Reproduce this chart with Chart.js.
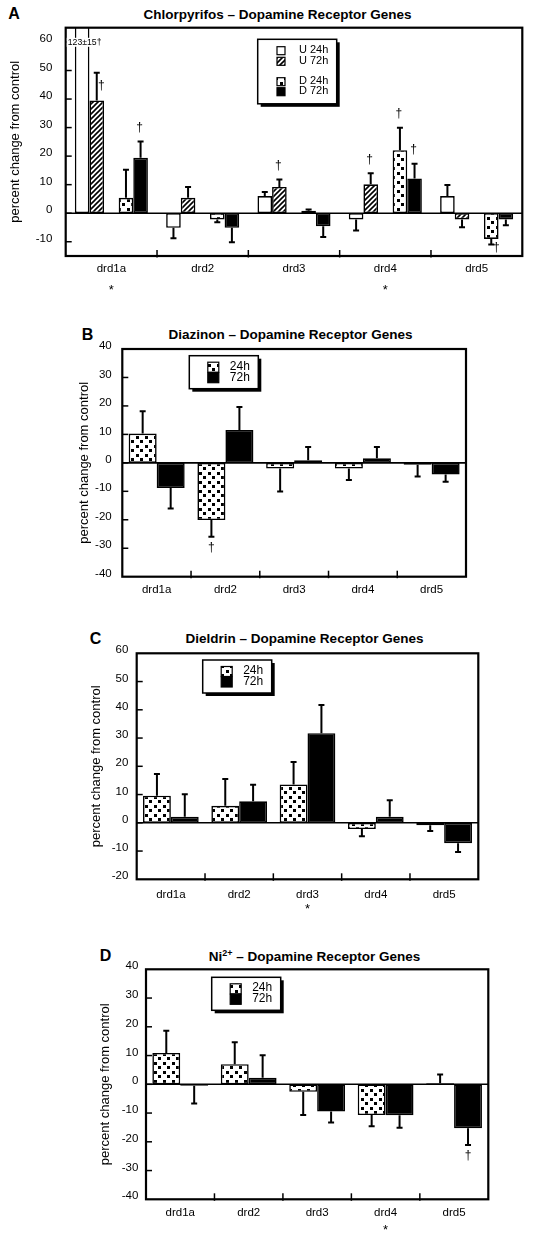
<!DOCTYPE html>
<html>
<head>
<meta charset="utf-8">
<script src="https://cdn.jsdelivr.net/npm/chart.js@4.4.1/dist/chart.umd.min.js"></script>
<style>
  body { margin: 0; background: #fff; }
  #wrap { position: relative; width: 533px; height: 1239px; font-family: "Liberation Sans", Arial, sans-serif; color: #000; }
  canvas { position: absolute; left: 0; }
  .ttl { position: absolute; transform: translate(-50%, -50%); white-space: nowrap; font-weight: bold; font-size: 13.5px; }
  .ttl sup { font-size: 9px; }
  .let { position: absolute; transform: translate(-50%, -50%); font-weight: bold; font-size: 16px; }
</style>
</head>
<body>
<div id="wrap">
  <div class="let" style="left:14px;top:14px">A</div>
  <div class="ttl" style="left:277.5px;top:14px">Chlorpyrifos – Dopamine Receptor Genes</div>
  <canvas id="cA" width="533" height="300" style="top:0px"></canvas>

  <div class="let" style="left:87.5px;top:334.5px">B</div>
  <div class="ttl" style="left:290.5px;top:334px">Diazinon – Dopamine Receptor Genes</div>
  <canvas id="cB" width="533" height="315" style="top:300px"></canvas>

  <div class="let" style="left:95.5px;top:638.5px">C</div>
  <div class="ttl" style="left:304.5px;top:638px">Dieldrin – Dopamine Receptor Genes</div>
  <canvas id="cC" width="533" height="320" style="top:615px"></canvas>

  <div class="let" style="left:105.5px;top:956px">D</div>
  <div class="ttl" style="left:314.5px;top:955.5px">Ni<sup>2+</sup> – Dopamine Receptor Genes</div>
  <canvas id="cD" width="533" height="304" style="top:935px"></canvas>
</div>

<script>
// Données
const genes = ['drd1a', 'drd2', 'drd3', 'drd4', 'drd5'];

// A : chlorpyrifos (U = undifferentiated, D = differentiated)
const aU24 = [123, -5.1, 6.0, -2.2, 6.0];
const aU24Err = [15, 3.7, 1.4, 3.9, 3.9];
const aU72 = [39.5, 5.4, 9.2, 10.1, -2.2];
const aU72Err = [9.7, 3.8, 2.6, 3.9, 2.7];
const aD24 = [5.4, -2.2, 0.9, 22.1, -9.0];
const aD24Err = [9.8, 1.0, 0.4, 7.8, 2.0];
const aD72 = [19.4, -5.1, -4.6, 12.2, -2.2];
const aD72Err = [5.7, 5.1, 3.7, 5.1, 2.0];
const aStars = ['drd1a', 'drd4'];
const aDaggers = [
  ['drd1a', 'U 72h', 'right'], ['drd1a', 'D 72h', 'above'], ['drd3', 'U 72h', 'above'],
  ['drd4', 'U 72h', 'above'], ['drd4', 'D 24h', 'above'], ['drd4', 'D 72h', 'above'],
  ['drd5', 'D 24h', 'belowRight']
];
const aNote = ['drd1a', 'U 24h', '123±15†'];

// B : diazinon
const b24 = [10.3, -20.1, -2.0, -2.0, -0.7];
const b24Err = [7.8, 5.9, 8.1, 4.0, 4.1];
const b72 = [-8.8, 11.5, 0.9, 1.6, -4.1];
const b72Err = [7.2, 8.1, 4.7, 4.0, 2.5];
const bStars = [];
const bDaggers = [['drd2', '24h', 'below']];

// C : dieldrin
const c24 = [9.6, 6.0, 13.6, -2.2, -0.9];
const c24Err = [7.7, 9.5, 7.9, 2.6, 2.0];
const c72 = [2.1, 7.6, 31.7, 2.1, -7.2];
const c72Err = [8.0, 5.9, 10.0, 5.9, 3.1];
const cStars = ['drd3'];
const cDaggers = [];

// D : Ni2+
const d24 = [10.9, 7.0, -2.6, -10.7, 0.4];
const d24Err = [7.7, 7.6, 8.1, 3.9, 3.0];
const d72 = [-0.5, 2.3, -9.5, -10.8, -15.3];
const d72Err = [6.2, 7.8, 3.8, 4.3, 5.8];
const dStars = ['drd4'];
const dDaggers = [['drd5', '72h', 'below']];

const FONT = '"Liberation Sans", Arial, sans-serif';

// Motifs
function makePattern(kind) {
  const c = document.createElement('canvas');
  const g = c.getContext('2d');
  if (kind === 'hatch') {
    c.width = c.height = 5;
    g.fillStyle = '#fff'; g.fillRect(0, 0, 5, 5);
    g.strokeStyle = '#000'; g.lineWidth = 1.6;
    g.beginPath();
    g.moveTo(-1, 6); g.lineTo(6, -1);
    g.moveTo(-1, 1); g.lineTo(1, -1);
    g.moveTo(4, 6); g.lineTo(6, 4);
    g.stroke();
  } else {
    c.width = c.height = 9;
    g.fillStyle = '#fff'; g.fillRect(0, 0, 9, 9);
    g.fillStyle = '#000';
    g.fillRect(1, 1, 3, 3);
    g.fillRect(5, 5, 3, 3);
  }
  return g.createPattern(c, 'repeat');
}
const hatch = makePattern('hatch');
const dots = makePattern('dots');

function line(ctx, x1, y1, x2, y2) {
  ctx.beginPath(); ctx.moveTo(x1, y1); ctx.lineTo(x2, y2); ctx.stroke();
}

function errEnd(v, e) { return v >= 0 ? v + e : v - e; }

const decor = {
  id: 'decor',
  afterDatasetsDraw(chart, args, o) {
    const { ctx, chartArea: a, scales: { x, y } } = chart;
    const sets = chart.data.datasets;
    const barOf = (cat, label) => {
      const di = sets.findIndex(d => d.label === label);
      const i = genes.indexOf(cat);
      return { bar: chart.getDatasetMeta(di).data[i], v: sets[di].data[i], e: sets[di].errors[i] };
    };

    // barres d'erreur
    ctx.save();
    ctx.beginPath(); ctx.rect(a.left, a.top, a.right - a.left, a.bottom - a.top); ctx.clip();
    ctx.strokeStyle = '#000'; ctx.lineWidth = 2;
    sets.forEach((ds, di) => {
      if (!ds.errors) return;
      chart.getDatasetMeta(di).data.forEach((bar, i) => {
        const v = ds.data[i];
        if (v == null) return;
        const py = y.getPixelForValue(errEnd(v, ds.errors[i]));
        line(ctx, bar.x, y.getPixelForValue(v), bar.x, py);
        line(ctx, bar.x - 3, py, bar.x + 3, py);
      });
    });
    ctx.restore();

    ctx.save();
    ctx.strokeStyle = '#000';
    // ligne zéro
    ctx.lineWidth = 1.6;
    const y0 = y.getPixelForValue(0);
    line(ctx, a.left, y0, a.right, y0);
    // cadre
    ctx.lineWidth = 2.2;
    ctx.strokeRect(a.left, a.top, a.right - a.left, a.bottom - a.top);
    // graduations internes
    ctx.lineWidth = 1.5;
    y.ticks.forEach(t => {
      const py = y.getPixelForValue(t.value);
      if (py > a.top + 2 && py < a.bottom - 2) line(ctx, a.left, py, a.left + 6, py);
    });
    for (let i = 1; i < genes.length; i++) {
      const px = (x.getPixelForValue(i - 1) + x.getPixelForValue(i)) / 2;
      line(ctx, px, a.bottom - 6, px, a.bottom + 1.5);
    }

    // légende
    const L = o.legend;
    const lx = a.left + L.dx, ly = a.top + L.dy;
    ctx.fillStyle = '#000';
    ctx.fillRect(lx + 3, ly + 3, L.w, L.h);
    ctx.fillStyle = '#fff';
    ctx.fillRect(lx, ly, L.w, L.h);
    ctx.lineWidth = 1.5;
    ctx.strokeRect(lx, ly, L.w, L.h);
    ctx.font = L.font + 'px ' + FONT;
    ctx.textBaseline = 'middle'; ctx.textAlign = 'left';
    L.rows.forEach(r => {
      const ds = sets.find(d => d.label === r.label);
      ctx.fillStyle = ds.backgroundColor;
      ctx.fillRect(lx + L.sx, ly + r.top, L.sw, L.sh);
      ctx.lineWidth = 1.2;
      ctx.strokeRect(lx + L.sx, ly + r.top, L.sw, L.sh);
      ctx.fillStyle = '#000';
      ctx.fillText(r.label, lx + L.tx, ly + r.ty);
    });

    // croix (dagues)
    ctx.font = '12px ' + FONT;
    ctx.textAlign = 'center'; ctx.textBaseline = 'middle';
    ctx.fillStyle = '#000';
    o.daggers.forEach(([cat, label, where]) => {
      const { bar, v, e } = barOf(cat, label);
      const py = y.getPixelForValue(errEnd(v, e));
      if (where === 'above') ctx.fillText('†', bar.x - 1, py - 14);
      else if (where === 'right') ctx.fillText('†', bar.x + 4.5, py + 13);
      else if (where === 'below') ctx.fillText('†', bar.x, py + 11);
      else if (where === 'belowRight') ctx.fillText('†', bar.x + 5, py + 3);
    });

    // note de valeur hors échelle
    if (o.note) {
      const { bar } = barOf(o.note[0], o.note[1]);
      ctx.font = '8.7px ' + FONT;
      const w = ctx.measureText(o.note[2]).width;
      const tx = bar.x + 2.5, ty = a.top + 14.6;
      ctx.fillStyle = '#fff';
      ctx.fillRect(tx - w / 2 - 1, ty - 4.5, w + 2, 9);
      ctx.fillStyle = '#000';
      ctx.fillText(o.note[2], tx, ty);
    }

    // étoiles
    ctx.font = '13px ' + FONT;
    ctx.textBaseline = 'alphabetic';
    o.stars.forEach(cat => {
      ctx.fillText('*', x.getPixelForValue(genes.indexOf(cat)), a.bottom + o.starY);
    });
    ctx.restore();
  }
};

function buildChart(id, p) {
  return new Chart(document.getElementById(id), {
    type: 'bar',
    data: { labels: genes, datasets: p.datasets },
    options: {
      responsive: false,
      animation: false,
      devicePixelRatio: 1,
      layout: { padding: { top: p.top, right: p.right, left: 0, bottom: 0 } },
      datasets: {
        bar: { categoryPercentage: p.catPct, barPercentage: 1, borderColor: '#000', borderWidth: 1.6, borderSkipped: false }
      },
      plugins: {
        legend: { display: false },
        tooltip: { enabled: false },
        decor: p.decor
      },
      scales: {
        x: {
          grid: { display: false, drawTicks: false },
          border: { display: false },
          ticks: { font: { family: FONT, size: 11.5 }, color: '#000', padding: p.xPad, maxRotation: 0, autoSkip: false },
          afterFit: s => { s.height = p.xh; }
        },
        y: {
          min: p.range[0], max: p.range[1],
          grid: { display: false, drawTicks: false },
          border: { display: false },
          ticks: { stepSize: 5, font: { family: FONT, size: 11.5 }, color: '#000', padding: p.yPad, labelOffset: -3 },
          afterBuildTicks: s => { s.ticks = s.ticks.filter(t => t.value % 10 === 0); },
          title: { display: true, text: 'percent change from control', font: { family: FONT, size: 13 }, color: '#000', padding: { top: p.titleTop, bottom: 0 } },
          afterFit: s => { s.width = p.left; }
        }
      }
    },
    plugins: [decor]
  });
}

const legend2 = (dx, dy) => ({
  dx, dy, w: 69, h: 33, sx: 18.5, sw: 11, sh: 10, tx: 40.5, font: 12,
  rows: [{ label: '24h', top: 6.5, ty: 10.8 }, { label: '72h', top: 17, ty: 21.8 }]
});

// A
buildChart('cA', {
  top: 27.7, right: 10.7, left: 65.7, xh: 44, range: [-15, 65], catPct: 0.8,
  xPad: 6, yPad: 13.4, titleTop: 7.5,
  datasets: [
    { label: 'U 24h', data: aU24, errors: aU24Err, backgroundColor: '#fff' },
    { label: 'U 72h', data: aU72, errors: aU72Err, backgroundColor: hatch },
    { label: '', data: [null, null, null, null, null] },
    { label: 'D 24h', data: aD24, errors: aD24Err, backgroundColor: dots },
    { label: 'D 72h', data: aD72, errors: aD72Err, backgroundColor: '#000' }
  ],
  decor: {
    stars: aStars, starY: 38, daggers: aDaggers, note: aNote,
    legend: {
      dx: 192, dy: 11.6, w: 79, h: 64.5, sx: 19.3, sw: 8, sh: 8, tx: 41.3, font: 11,
      rows: [
        { label: 'U 24h', top: 7.4, ty: 10.7 }, { label: 'U 72h', top: 18, ty: 21.4 },
        { label: 'D 24h', top: 38.4, ty: 41.7 }, { label: 'D 72h', top: 48.4, ty: 51.7 }
      ]
    }
  }
});

// B
buildChart('cB', {
  top: 49, right: 67, left: 122.3, xh: 38.3, range: [-40, 40], catPct: 0.815,
  xPad: 6, yPad: 10.6, titleTop: 76.2,
  datasets: [
    { label: '24h', data: b24, errors: b24Err, backgroundColor: dots },
    { label: '72h', data: b72, errors: b72Err, backgroundColor: '#000' }
  ],
  decor: { stars: bStars, starY: 0, daggers: bDaggers, legend: legend2(67, 6.7) }
});

// C
buildChart('cC', {
  top: 38.3, right: 54.7, left: 136.7, xh: 55.7, range: [-20, 60], catPct: 0.815,
  xPad: 9, yPad: 8.4, titleTop: 88.9,
  datasets: [
    { label: '24h', data: c24, errors: c24Err, backgroundColor: dots },
    { label: '72h', data: c72, errors: c72Err, backgroundColor: '#000' }
  ],
  decor: { stars: cStars, starY: 34, daggers: cDaggers, legend: legend2(66, 6.7) }
});

// D
buildChart('cD', {
  top: 34.3, right: 44.7, left: 146, xh: 39.7, range: [-40, 40], catPct: 0.815,
  xPad: 7, yPad: 7.7, titleTop: 97.7,
  datasets: [
    { label: '24h', data: d24, errors: d24Err, backgroundColor: dots },
    { label: '72h', data: d72, errors: d72Err, backgroundColor: '#000' }
  ],
  decor: { stars: dStars, starY: 35, daggers: dDaggers, legend: legend2(65.7, 8) }
});
</script>
</body>
</html>
